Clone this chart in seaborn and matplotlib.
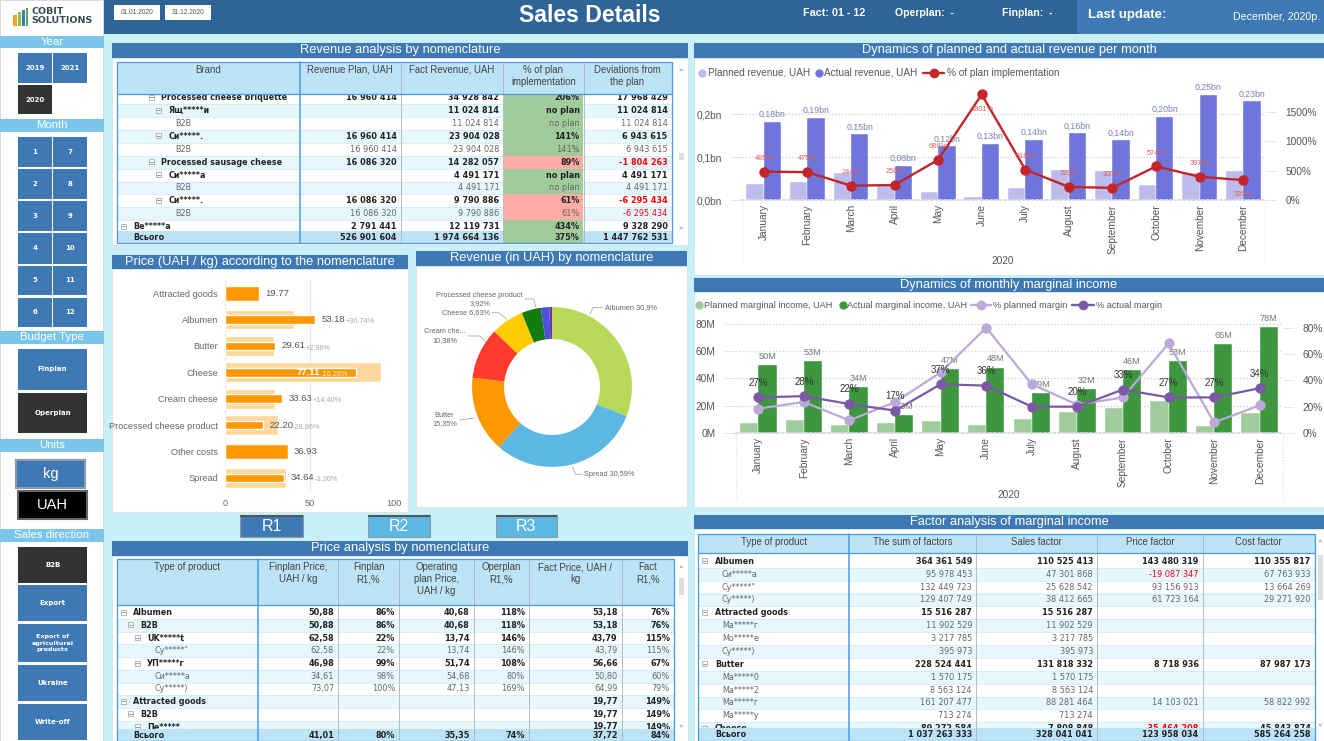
import pandas as pd
import numpy as np
import matplotlib
matplotlib.use('Agg')
import matplotlib.pyplot as plt
from matplotlib.patches import Rectangle
import seaborn as sns

sns.set_theme(style='white')
plt.rcParams['font.family'] = ['Noto Sans', 'DejaVu Sans']
TXT = 'Liberation Sans'

W, H = 1324, 741

# ---- chart data
months = ['January', 'February', 'March', 'April', 'May', 'June', 'July', 'August',
          'September', 'October', 'November', 'December']
rev_planned = [0.037, 0.041, 0.063, 0.034, 0.018, 0.008, 0.028, 0.070, 0.067, 0.034, 0.062, 0.068]
rev_actual = [0.182, 0.192, 0.153, 0.079, 0.125, 0.131, 0.140, 0.155, 0.139, 0.194, 0.245, 0.230]
rev_actual_labels = [0.18, 0.19, 0.15, 0.08, 0.12, 0.13, 0.14, 0.16, 0.14, 0.20, 0.25, 0.23]
rev_pct = [485, 475, 244, 256, 686, 1801, 518, 223, 207, 574, 397, 339]

mar_planned = [7.1, 9.5, 5.9, 7.3, 8.5, 5.9, 10.2, 15.4, 18.3, 23.4, 4.9, 14.4]
mar_actual = [50, 53, 34, 13, 47, 48, 29, 32, 46, 53, 65, 78]
mar_pct_plan = [18.5, 23.5, 9.6, 23.5, 46, 80, 37, 21.5, 27, 68, 8, 21]
mar_pct_actual = [27, 28, 22, 17, 37, 36, 20, 20, 33, 27, 27, 34]

products = ['Attracted goods', 'Albumen', 'Butter', 'Cheese', 'Cream cheese',
            'Processed cheese product', 'Other costs', 'Spread']
price_plan = [np.nan, 40.68, 28.76, 92.1, 29.4, 31.2, np.nan, 35.82]
price_fact = [19.77, 53.18, 29.61, 77.11, 33.63, 22.20, 36.93, 34.64]
price_delta = ['', '+30.74%', '+2.96%', '-16.28%', '+14.40%', '-28.86%', '', '-3.30%']

pie_values = [30.9, 30.59, 15.35, 10.38, 6.63, 3.92, 1.7, 0.53]
pie_colors = ['#B7D957', '#5CB7E3', '#FF9800', '#FF3B30', '#FFCC00', '#107C10', '#4F4FD9', '#7030A0']

# ---- revenue table
rev_labels = ['Processed cheese briquette', 'Ящ*****и', 'B2B', 'Си*****.', 'B2B',
              'Processed sausage cheese', 'Си*****а', 'B2B', 'Си*****.', 'B2B', 'Ве*****а']
rev_levels = [4, 5, 6, 5, 6, 4, 5, 6, 5, 6, 0]
rev_plan_col = ['16 960 414', '', '', '16 960 414', '16 960 414', '16 086 320', '', '',
                '16 086 320', '16 086 320', '2 791 441']
rev_fact_col = ['34 928 842', '11 024 814', '11 024 814', '23 904 028', '23 904 028', '14 282 057',
                '4 491 171', '4 491 171', '9 790 886', '9 790 886', '12 119 731']
rev_pct_col = ['206%', 'no plan', 'no plan', '141%', '141%', '89%', 'no plan', 'no plan', '61%', '61%', '434%']
rev_dev_col = ['17 968 429', '11 024 814', '11 024 814', '6 943 615', '6 943 615', '-1 804 263',
               '4 491 171', '4 491 171', '-6 295 434', '-6 295 434', '9 328 290']
rev_total = ['526 901 604', '1 974 664 136', '375%', '1 447 762 531']
rev_headers = ['Brand', 'Revenue Plan, UAH', 'Fact Revenue, UAH', '% of plan\nimplementation',
               'Deviations from\nthe plan']

# ---- price table
pr_labels = ['Albumen', 'B2B', 'UK*****t', 'Су*****"', 'УП*****г', 'Си*****а', 'Су*****)',
             'Attracted goods', 'B2B', 'Пе*****..']
pr_levels = [0, 1, 2, 3, 2, 3, 3, 0, 1, 2]
pr_leaf = [3, 5, 6]
pr_fin = ['50,88', '50,88', '62,58', '62,58', '46,98', '34,61', '73,07', '', '', '']
pr_fin_r = ['86%', '86%', '22%', '22%', '99%', '98%', '100%', '', '', '']
pr_op = ['40,68', '40,68', '13,74', '13,74', '51,74', '54,68', '47,13', '', '', '']
pr_op_r = ['118%', '118%', '146%', '146%', '108%', '80%', '169%', '', '', '']
pr_fact = ['53,18', '53,18', '43,79', '43,79', '56,66', '50,80', '64,99', '19,77', '19,77', '19,77']
pr_fact_r = ['76%', '76%', '115%', '115%', '67%', '60%', '79%', '149%', '149%', '149%']
pr_total = ['41,01', '80%', '35,35', '74%', '37,72', '84%']
pr_headers = ['Type of product', 'Finplan Price,\nUAH / kg', 'Finplan\nR1,%',
              'Operating\nplan Price,\nUAH / kg', 'Operplan\nR1,%', 'Fact Price, UAH /\nkg', 'Fact\nR1,%']

# ---- factor table
fa_labels = ['Albumen', 'Си*****а', 'Су*****"', 'Су*****)', 'Attracted goods', 'Ма*****г', 'Мо*****е',
             'Су*****)', 'Butter', 'Ма*****0', 'Ма*****2', 'Ма*****г', 'Ма*****у', 'Cheese']
fa_levels = [0, 1, 1, 1, 0, 1, 1, 1, 0, 1, 1, 1, 1, 0]
fa_sum = ['364 361 549', '95 978 453', '132 449 723', '129 407 749', '15 516 287', '11 902 529', '3 217 785',
          '395 973', '228 524 441', '1 570 175', '8 563 124', '161 207 477', '713 274', '89 272 584']
fa_sales = ['110 525 413', '47 301 868', '25 628 542', '38 412 665', '15 516 287', '11 902 529', '3 217 785',
            '395 973', '131 818 332', '1 570 175', '8 563 124', '88 281 464', '713 274', '7 808 848']
fa_price = ['143 480 319', '-19 087 347', '93 156 913', '61 723 164', '', '', '', '', '8 718 936', '', '',
            '14 103 021', '', '-35 464 208']
fa_cost = ['110 355 817', '67 763 933', '13 664 269', '29 271 920', '', '', '', '', '87 987 173', '', '',
           '58 822 992', '', '45 843 874']
fa_total = ['1 037 263 333', '328 041 041', '123 958 034', '585 264 258']
fa_headers = ['Type of product', 'The sum of factors', 'Sales factor', 'Price factor', 'Cost factor']

# ---- colours
PAGE = '#C9F0F8'
BAR = '#3E78B5'
TOP = '#2F6496'
SIDE = '#7CC5EA'
DARK = '#333333'
HEAD = '#BDE3F6'
ALT = '#E6F7FE'
EDGE = '#4A9AEA'
GOOD = '#A0CB9B'
BAD = '#FFABA6'

fig = plt.figure(figsize=(W / 100, H / 100), dpi=100, facecolor=PAGE)
bg = fig.add_axes([0, 0, 1, 1], zorder=-1)
bg.set_xlim(0, W)
bg.set_ylim(H, 0)
bg.axis('off')


def box(x0, y0, x1, y1, color, z=0.5, **kw):
    bg.add_patch(Rectangle((x0, y0), x1 - x0, y1 - y0, facecolor=color, edgecolor=kw.pop('ec', 'none'),
                           linewidth=kw.pop('lw', 0), zorder=z, **kw))


def label(x, y, s, size=6.5, color='#555555', ha='left', va='center', weight='normal', z=6, family=TXT, **kw):
    bg.text(x, y, s, fontsize=size, color=color, ha=ha, va=va, fontweight=weight, zorder=z, family=family, **kw)


def panel(x0, y0, x1, y1, title, ybar):
    box(x0, y0, x1, y1, 'white', ec='#D5E3E8', lw=0.6)
    box(x0, ybar, x1, y0, BAR, z=1)
    label((x0 + x1) / 2, (ybar + y0) / 2, title, size=9.3, color='white', ha='center', z=2)


def draw_table(bounds, top, head_bot, first_y, pitch, labels, levels, cols, total, headers,
               total_top, total_bot, leaf=None, pct_col=None):
    left = bounds[0]
    right = bounds[-1]
    for i, (name, lev) in enumerate(zip(labels, levels)):
        y = first_y + i * pitch
        is_leaf = leaf(i) if leaf else False
        box(left, y - pitch / 2, right, y + pitch / 2, 'white' if i % 2 == 0 else ALT, z=1)
        bg.plot([left, right], [y + pitch / 2] * 2, color='#CDE9F5', lw=0.5, zorder=1.2)
        tx = left + 16.5 + 7 * lev
        wt = 'normal' if is_leaf else 'bold'
        fam = 'DejaVu Sans'
        tcolor = '#666666' if is_leaf else '#222222'
        label(tx, y, name, size=5.8, color=tcolor, weight=wt, z=2, family=fam)
        if not is_leaf:
            bg.add_patch(Rectangle((tx - 12.5, y - 3), 5, 5, facecolor='white', edgecolor='#999999', lw=0.5, zorder=2))
            bg.plot([tx - 11.5, tx - 8.5], [y - 0.5, y - 0.5], color='#666666', lw=0.5, zorder=2.1)
        for j, col in enumerate(cols):
            val = col[i]
            xr = bounds[j + 2] - 4
            if pct_col == j:
                good = val == 'no plan' or int(val[:-1]) >= 100
                box(bounds[j + 1] + 1, y - pitch / 2, bounds[j + 2] - 1, y + pitch / 2, GOOD if good else BAD, z=1.5)
            c = 'red' if val.startswith('-') else tcolor
            label(xr, y, val, size=5.9, color=c, ha='right', weight=wt, z=2, family=fam)
    box(left, top, right, head_bot, HEAD, z=3)
    box(left, total_top, right, total_bot, HEAD, z=3)
    for j, h in enumerate(headers):
        cx = (bounds[j] + bounds[j + 1]) / 2
        label(cx, top + 3, h, size=6.9, color='#444444', ha='center', va='top', z=4, linespacing=1.25)
    label(left + 16.5, (total_top + total_bot) / 2 + 0.5, 'Всього', size=5.8, color='#222222', weight='bold', z=4,
          family='DejaVu Sans')
    for j, t in enumerate(total):
        if pct_col == j:
            box(bounds[j + 1] + 1, total_top, bounds[j + 2] - 1, total_bot, GOOD, z=3.1)
        label(bounds[j + 2] - 4, (total_top + total_bot) / 2 + 0.5, t, size=5.9, color='#222222', ha='right',
              weight='bold', z=4, family='DejaVu Sans')
    for j, xv in enumerate(bounds[1:-1]):
        c = EDGE if j == 0 else '#AAB4BC'
        bg.plot([xv, xv], [top, total_bot], color=c, lw=1.1 if j == 0 else 0.6, zorder=4.5)
    bg.add_patch(Rectangle((left, top), right - left, total_bot - top, fill=False, edgecolor=EDGE, lw=0.9, zorder=5))
    bg.plot([left, right], [head_bot, head_bot], color=EDGE, lw=0.9, zorder=5)


# ---- top bar
box(104, 0, W, 34, TOP)
box(1077, 0, W, 34, BAR, z=1)
box(114, 5, 160, 20, 'white', z=1)
box(165, 5, 211, 20, 'white', z=1)
label(137, 12.5, '01.01.2020', size=4.8, ha='center')
label(188, 12.5, '31.12.2020', size=4.8, ha='center')
label(590, 15, 'Sales Details', size=16.6, color='white', ha='center', weight='bold')
label(803, 13, 'Fact: 01 - 12', size=7.8, color='white', weight='bold')
label(895, 13, 'Operplan:  -', size=7.6, color='white', weight='bold')
label(1002, 13, 'Finplan:  -', size=7.6, color='white', weight='bold')
label(1088, 15, 'Last update:', size=9.5, color='white', weight='bold')
label(1320, 17, 'December, 2020p.', size=7.7, color='white', ha='right')

# ---- side bar
box(0, 0, 103, H, 'white', ec='#D0D0D0', lw=0.5)
for x0, x1, c in [(13, 17, '#F5A623'), (17.5, 21, '#8BC34A'), (21.5, 25, '#3E78B5'), (25.5, 28, '#4CAF50')]:
    box(x0, 18 - (x0 - 8) * 0.6, x1, 26, c, z=1)
label(31, 11, 'COBIT', size=6.8, color='#3A4A55', weight='bold', family='DejaVu Sans')
label(31, 20.5, 'SOLUTIONS', size=6.8, color='#3A4A55', weight='bold', family='DejaVu Sans')


def side_head(y0, y1, s):
    box(0, y0, 104, y1, SIDE, z=1)
    label(52, (y0 + y1) / 2, s, size=8.2, color='white', ha='center')


def btn(x0, y0, x1, y1, s, dark=False, size=5.0):
    box(x0, y0, x1, y1, DARK if dark else BAR, z=1)
    label((x0 + x1) / 2, (y0 + y1) / 2, s, size=size, color='white', ha='center', weight='bold',
          family='DejaVu Sans', linespacing=1.4)


side_head(36, 48, 'Year')
btn(18, 53, 52, 83, '2019')
btn(53, 53, 87, 83, '2021')
btn(18, 85, 52, 114, '2020', dark=True)
side_head(119, 132, 'Month')
month_rows = [(137, 167), (169, 199), (201, 231), (233, 264), (266, 295), (298, 327)]
for k, (y0, y1) in enumerate(month_rows):
    btn(18, y0, 52, y1, str(k + 1))
    btn(53, y0, 87, y1, str(k + 7))
side_head(331, 344, 'Budget Type')
btn(18, 349, 87, 390, 'Finplan')
btn(18, 393, 87, 433, 'Operplan', dark=True)
side_head(439, 452, 'Units')
box(16, 460, 85, 488, BAR, z=1, ec='#8C9AB0', lw=1.5)
label(50.5, 474, 'kg', size=10.5, color='white', ha='center')
box(18, 491, 87, 519, 'black', z=1, ec='#666666', lw=1.5)
label(52.5, 505, 'UAH', size=10.5, color='white', ha='center')
side_head(529, 542, 'Sales direction')
btn(18, 547, 87, 583, 'B2B', dark=True)
btn(18, 585, 87, 621, 'Export')
btn(18, 624, 87, 662, 'Export of\nagricultural\nproducts', size=4.6)
btn(18, 665, 87, 701, 'Ukraine')
btn(18, 704, 87, 740, 'Write-off')

# ---- panels
panel(112, 58, 688, 245, 'Revenue analysis by nomenclature', 43)
panel(694, 58, W, 275, 'Dynamics of planned and actual revenue per month', 43)
panel(694, 292, W, 507, 'Dynamics of monthly marginal income', 278)
panel(112, 269, 408, 512, 'Price (UAH / kg) according to the nomenclature', 255)
panel(416, 266, 687, 507, 'Revenue (in UAH) by nomenclature', 251)
panel(112, 556, 688, H, 'Price analysis by nomenclature', 541)
panel(694, 529, W, H, 'Factor analysis of marginal income', 515)

# ---- tables
draw_table([116.7, 299.8, 400.8, 503.3, 583.5, 671.6], 62, 94, 97.7, 12.9, rev_labels, rev_levels,
           [rev_plan_col, rev_fact_col, rev_pct_col, rev_dev_col], rev_total, rev_headers, 230.5, 242.5,
           leaf=lambda i: rev_labels[i] == 'B2B', pct_col=2)
draw_table([116.7, 258, 338, 399, 473.7, 528.8, 621.7, 673.8], 559, 605, 612.7, 12.7, pr_labels, pr_levels,
           [pr_fin, pr_fin_r, pr_op, pr_op_r, pr_fact, pr_fact_r], pr_total, pr_headers, 729, 741,
           leaf=lambda i: i in pr_leaf)
draw_table([698.4, 848.7, 976, 1097, 1202.6, 1314.7], 533.7, 552.7, 561.3, 12.88, fa_labels, fa_levels,
           [fa_sum, fa_sales, fa_price, fa_cost], fa_total, fa_headers, 728, 740.5,
           leaf=lambda i: fa_levels[i] == 1)

# scroll bars
for x0, y_up, y_down, ty0, ty1 in [(678.5, 70, 228, 153, 160), (678.5, 567, 726, 578, 595), (1317.5, 541, 725, 555, 600)]:
    box(x0, ty0, x0 + 5.5, ty1, '#DEDEDE', z=1.1)
    bg.plot([x0 + 1.5, x0 + 2.75, x0 + 4], [y_up + 1, y_up - 1, y_up + 1], color='#999999', lw=0.6, zorder=1.1)
    bg.plot([x0 + 1.5, x0 + 2.75, x0 + 4], [y_down - 1, y_down + 1, y_down - 1], color='#999999', lw=0.6, zorder=1.1)

# ---- R buttons
for x0, x1, s, c in [(240, 303, 'R1', BAR), (368, 430, 'R2', '#5CB7E3'), (495.5, 557, 'R3', '#5CB7E3')]:
    box(x0, 515, x1, 537, c, z=1, ec='#8C9AA5', lw=0.8)
    box(x0, 515, x1, 517, '#555555', z=1.2)
    label((x0 + x1) / 2, 526.5, s, size=11.5, color='white', ha='center')


def px_axes(l, t, r, b):
    a = fig.add_axes([l / W, 1 - b / H, (r - l) / W, (b - t) / H])
    a.patch.set_alpha(0)
    return a


def combo_chart(ax, planned, actual, names, colors, ticks, ticklabels, ymax):
    df = pd.DataFrame({'month': months * 2, 'value': planned + actual,
                       'series': [names[0]] * 12 + [names[1]] * 12})
    sns.barplot(data=df, x='month', y='value', hue='series', order=months, hue_order=names,
                palette=dict(zip(names, colors)), saturation=1, width=0.8, gap=0, legend=False,
                errorbar=None, ax=ax, edgecolor='white', linewidth=0.3)
    ax.set_xlim(-0.5, 11.5)
    ax.set_ylim(0, ymax)
    ax.set_xlabel('')
    ax.set_ylabel('')
    ax.set_yticks(ticks)
    ax.set_yticklabels(ticklabels, family=TXT, fontsize=7.3, color='#555555')
    ax.tick_params(axis='x', rotation=90, length=0, pad=3, colors='#555555')
    for t in ax.get_xticklabels():
        t.set_family(TXT)
        t.set_fontsize(7.3)
    ax.tick_params(axis='y', length=8.5, width=0.6, color='#E2E2E2', pad=6)
    ax.yaxis.grid(True, color='#CFCFCF', ls=':', lw=0.9)
    ax.set_axisbelow(True)
    sns.despine(ax=ax, left=True, bottom=False)
    ax.spines['bottom'].set_color('#D8D8D8')
    ax.spines['bottom'].set_linestyle(':')


def pct_axis(ax, ticks, ticklabels, ymax):
    ax2 = ax.twinx()
    ax2.patch.set_alpha(0)
    ax2.set_ylim(0, ymax)
    ax2.set_yticks(ticks)
    ax2.set_yticklabels(ticklabels, family=TXT, fontsize=7.3, color='#555555')
    ax2.tick_params(axis='y', length=8, width=0.6, color='#E2E2E2', pad=6.5)
    for s in ax2.spines.values():
        s.set_visible(False)
    return ax2


def legend_dot(x, y, color):
    bg.plot([x], [y], marker='o', ms=5, color=color, ls='', zorder=6)


def legend_line(x0, x1, y, color):
    bg.plot([x0, x1], [y, y], color=color, lw=1.7, zorder=6)
    bg.plot([(x0 + x1) / 2], [y], marker='o', ms=6, color=color, ls='', zorder=6)


# ---- revenue chart
ax_rev = px_axes(742, 84, 1265, 200)
rev_colors = ['#BDBCEC', '#7075DB']
rev_names = ['Planned revenue, UAH', 'Actual revenue, UAH']
combo_chart(ax_rev, rev_planned, rev_actual, rev_names, rev_colors, [0, 0.1, 0.2],
            ['0,0bn', '0,1bn', '0,2bn'], 0.27)
ax_rev.bar_label(ax_rev.containers[1], labels=[f'{v:.2f}bn'.replace('.', ',') for v in rev_actual_labels],
                 fontsize=6.3, color='#7A7FB5', padding=2, family=TXT)
ax_rev2 = pct_axis(ax_rev, [0, 500, 1000, 1500], ['0%', '500%', '1000%', '1500%'], 1980)
sns.pointplot(x=months, y=rev_pct, color='#C2262A', markersize=6.2, linewidth=1.7, errorbar=None, ax=ax_rev2)
ax_rev2.set_xlim(-0.5, 11.5)
ax_rev2.set_ylim(0, 1980)
for i, v in enumerate(rev_pct):
    below = months[i] in ('June', 'December')
    ax_rev2.annotate(f'{v}%', (i, v), xytext=(0, -10.5 if below else 9.5), textcoords='offset points', ha='center',
                     va='center', fontsize=5.3, color='#DE5F5A', family=TXT)
legend_dot(702, 72.7, rev_colors[0])
label(708, 72.7, rev_names[0], size=7.2)
legend_dot(819, 72.7, rev_colors[1])
label(824.5, 72.7, rev_names[1], size=7.2)
legend_line(923, 944, 72.7, '#C2262A')
label(947, 72.7, '% of plan implementation', size=7.2)
label(1003, 261, '2020', size=7.3, ha='center')
for xv in (742, 1265):
    bg.plot([xv, xv], [200, 267], color='#DDDDDD', ls=':', lw=0.8, zorder=1)

# ---- margin chart
ax_mar = px_axes(735.5, 315, 1282.5, 433)
mar_colors = ['#A0CC9C', '#3E973F']
mar_names = ['Planned marginal income, UAH', 'Actual marginal income, UAH']
combo_chart(ax_mar, mar_planned, mar_actual, mar_names, mar_colors, [0, 20, 40, 60, 80],
            ['0M', '20M', '40M', '60M', '80M'], 86.6)
ax_mar.bar_label(ax_mar.containers[1], labels=[f'{v}M' for v in mar_actual], fontsize=6.6, color='#6D7D6D',
                 padding=3, family=TXT)
ax_mar2 = pct_axis(ax_mar, [0, 20, 40, 60, 80], ['0%', '20%', '40%', '60%', '80%'], 89.6)
sns.pointplot(x=months, y=mar_pct_plan, color='#BBA9D9', markersize=6.2, linewidth=1.6, errorbar=None, ax=ax_mar2)
sns.pointplot(x=months, y=mar_pct_actual, color='#7D58A8', markersize=6.2, linewidth=1.6, errorbar=None, ax=ax_mar2)
ax_mar2.set_xlim(-0.5, 11.5)
ax_mar2.set_ylim(0, 89.6)
for i, v in enumerate(mar_pct_actual):
    if months[i] == 'July':
        continue
    ax_mar2.annotate(f'{v}%', (i, v), xytext=(0, 10.5), textcoords='offset points', ha='center', va='center',
                     fontsize=7, color='#333333', family=TXT)
legend_dot(699, 305, mar_colors[0])
label(704, 305, mar_names[0], size=6.6)
legend_dot(842.5, 305, mar_colors[1])
label(847, 305, mar_names[1], size=6.6)
legend_line(971, 991, 305, '#BBA9D9')
label(993, 305, '% planned margin', size=6.6)
legend_line(1072, 1094, 305, '#7D58A8')
label(1096, 305, '% actual margin', size=6.6)
label(1009, 495, '2020', size=7.3, ha='center')
for xv in (735.5, 1282.5):
    bg.plot([xv, xv], [433, 500], color='#DDDDDD', ls=':', lw=0.8, zorder=1)

# ---- price bullet chart
ax_price = px_axes(225, 280, 394.5, 491)
sns.barplot(x=price_plan, y=products, order=products, color='#FFD79B', saturation=1, width=0.75, errorbar=None,
            orient='h', ax=ax_price)
has_plan = [not np.isnan(v) for v in price_plan]
thin = [f if p else np.nan for f, p in zip(price_fact, has_plan)]
thick = [np.nan if p else f for f, p in zip(price_fact, has_plan)]
sns.barplot(x=thin, y=products, order=products, color='#FF9800', saturation=1, width=0.32, errorbar=None,
            orient='h', ax=ax_price)
sns.barplot(x=thick, y=products, order=products, color='#FF9800', saturation=1, width=0.58, errorbar=None,
            orient='h', ax=ax_price)
ax_price.set_xlim(0, 100)
ax_price.set_ylim(7.5, -0.5)
ax_price.set_xticks([0, 50, 100])
ax_price.xaxis.grid(True, color='#E6E6E6', lw=0.8)
ax_price.set_axisbelow(True)
ax_price.tick_params(axis='both', length=0, colors='#666666')
ax_price.tick_params(axis='y', pad=5)
ax_price.tick_params(axis='x', pad=5.5)
for t in ax_price.get_xticklabels() + ax_price.get_yticklabels():
    t.set_family(TXT)
    t.set_fontsize(6.6)
sns.despine(ax=ax_price, left=True, bottom=True)
for i, (v, d) in enumerate(zip(price_fact, price_delta)):
    inside = products[i] == 'Cheese'
    xt = v - 34.6 if inside else v + 3.8
    ax_price.text(xt, i, f'{v:.2f}', fontsize=6.8, va='center', ha='left', family=TXT,
                  color='white' if inside else '#555555', fontweight='bold' if inside else 'normal')
    if d:
        ax_price.text(xt + 14.2, i + 0.08, d, fontsize=5.3, va='center', ha='left', family=TXT,
                      color='#FFE9C8' if inside else '#A9A9A9')

# ---- donut
ax_pie = px_axes(472, 307, 632, 467)
ax_pie.pie(pie_values, colors=pie_colors, startangle=90, counterclock=False, radius=1,
           wedgeprops={'width': 0.4, 'linewidth': 0})
ax_pie.set_xlim(-1, 1)
ax_pie.set_ylim(-1, 1)

pie_notes = [(605, 307.3, 'Albumen 30,9%', 'left', [(590, 314), (593, 307.7), (603, 307.7)]),
             (584, 474, 'Spread 30,59%', 'left', [(572.5, 466.7), (575.4, 474.3), (583, 474.3)]),
             (457, 419.5, 'Butter\n15,35%', 'right', [(474.4, 418), (459.6, 420)]),
             (466, 336, 'Cream che...\n10,38%', 'right', [(485.5, 341.7), (480, 336), (468, 336)]),
             (490, 312.7, 'Cheese 6,63%', 'right', [(506.6, 319), (498.5, 312.7), (492, 312.7)]),
             (523, 299.5, 'Processed cheese product\n3,92%', 'right', [(536, 307.7), (533.6, 299), (524.4, 299)])]
for tx, ty, s, ha, pts in pie_notes:
    bg.text(tx, ty, s, fontsize=5.3, color='#666666', ha=ha, va='center', family=TXT, zorder=6,
            multialignment='center', linespacing=1.25)
    bg.plot([p[0] for p in pts], [p[1] for p in pts], color='#AAAAAA', lw=0.6, zorder=6)

fig.savefig('out.png', dpi=100, facecolor=PAGE)
